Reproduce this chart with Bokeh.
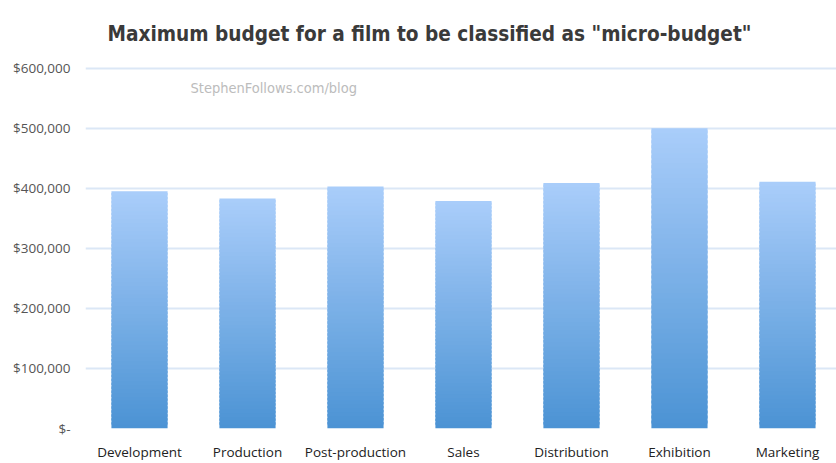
from bokeh.plotting import figure
from bokeh.models import FixedTicker, Range1d, Label
from bokeh.embed import file_html
from bokeh.resources import INLINE

categories = ["Development", "Production", "Post-production", "Sales",
              "Distribution", "Exhibition", "Marketing"]
values = [395000, 383000, 403000, 379000, 409000, 500000, 411000]
y_ticks = [0, 100000, 200000, 300000, 400000, 500000, 600000]
y_tick_labels = ["$-", "$100,000", "$200,000", "$300,000", "$400,000", "$500,000", "$600,000"]
title_text = 'Maximum budget for a film to be classified as "micro-budget"'
watermark = "StephenFollows.com/blog"

TITLE_FONT = "Liberation Sans Narrow, DejaVu Sans Condensed, sans-serif"
LABEL_FONT = "Open Sans, Liberation Sans Narrow, sans-serif"

p = figure(width=836, height=463, output_backend="svg", toolbar_location=None,
           x_range=Range1d(-0.5, 6.454), y_range=Range1d(0, 603000),
           min_border_left=85, min_border_right=0, min_border_top=66, min_border_bottom=25)
p.outline_line_color = None
p.background_fill_color = "white"
p.border_fill_color = "white"

p.title.text = title_text
p.title.align = "left"
p.title.offset = 22
p.title.text_font = TITLE_FONT
p.title.text_font_style = "bold"
p.title.text_font_size = "20.6px"
p.title.text_color = "#3a3a3a"
p.title.standoff = 38
p.title.vertical_align = "top"

# gradient bars (light on top, darker at the bottom) as stacked slices
N = 60
top_c = (0xA9, 0xCD, 0xFA)
bot_c = (0x4C, 0x93, 0xD4)
xs, tops, bottoms, colors = [], [], [], []
for i, v in enumerate(values):
    for k in range(N):
        t = k / (N - 1)
        c = tuple(round(bot_c[j] + (top_c[j] - bot_c[j]) * t) for j in range(3))
        xs.append(i)
        bottoms.append(v * k / N)
        tops.append(v * (k + 1.6) / N if k < N - 1 else v)
        colors.append("#%02x%02x%02x" % c)
p.vbar(x=xs, top=tops, bottom=bottoms, width=0.52, fill_color=colors, line_color=None)

# axes
p.xaxis.ticker = FixedTicker(ticks=list(range(len(categories))))
p.xaxis.major_label_overrides = {i: c for i, c in enumerate(categories)}
p.xaxis.axis_line_color = None
p.xaxis.major_tick_line_color = None
p.xaxis.minor_tick_line_color = None
p.xaxis.major_label_text_font = LABEL_FONT
p.xaxis.major_label_text_font_size = "13.5px"
p.xaxis.major_label_text_color = "#222222"
p.xaxis.major_label_standoff = 8

p.yaxis.ticker = FixedTicker(ticks=y_ticks)
p.yaxis.major_label_overrides = {t: l for t, l in zip(y_ticks, y_tick_labels)}
p.yaxis.axis_line_color = None
p.yaxis.major_tick_line_color = None
p.yaxis.minor_tick_line_color = None
p.yaxis.major_label_text_font = LABEL_FONT
p.yaxis.major_label_text_font_size = "13.5px"
p.yaxis.major_label_text_color = "#555555"
p.yaxis.major_label_standoff = 9

p.xgrid.grid_line_color = None
p.ygrid.grid_line_color = "#dbe7f6"
p.ygrid.grid_line_width = 2
p.ygrid.level = "underlay"

# screen units are measured from the frame's bottom-left corner
p.add_layout(Label(x=105, y=341, x_units="screen", y_units="screen", text=watermark,
                   text_font=TITLE_FONT, text_font_size="14.5px",
                   text_color="#bcbcbc", text_align="left", text_baseline="middle"))

open("out.html", "w").write(file_html(p, INLINE))
